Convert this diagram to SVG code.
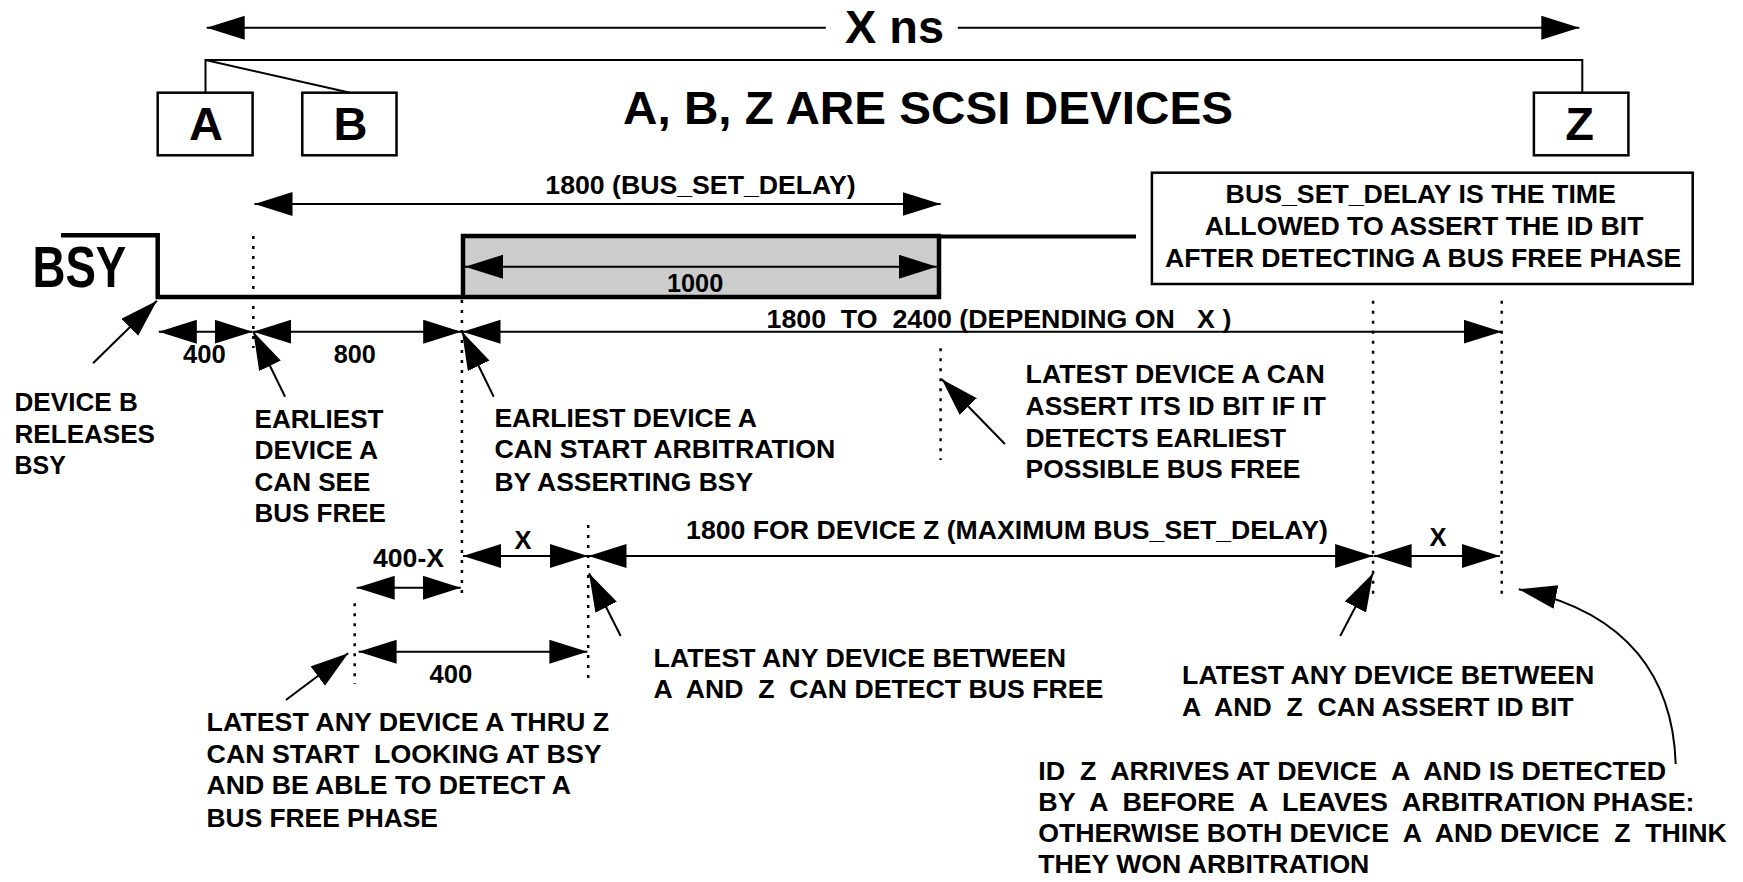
<svg xmlns="http://www.w3.org/2000/svg" width="1743" height="882" viewBox="0 0 1743 882">
<style>
text{font-family:"Liberation Sans",Arial,sans-serif;font-weight:bold;fill:#000;white-space:pre}
.t{font-size:25.5px}
.box{fill:#fff;stroke:#000;stroke-width:2.5}
.ln{fill:none;stroke:#000;stroke-width:2}
.ar{fill:none;stroke:#000;stroke-width:2;marker-end:url(#ah)}
.da{fill:none;stroke:#000;stroke-width:2;marker-start:url(#ah);marker-end:url(#ah)}
.dot{fill:none;stroke:#000;stroke-width:2.5;stroke-dasharray:3 7}
</style>
<defs>
<marker id="ah" markerUnits="userSpaceOnUse" markerWidth="40" markerHeight="26" refX="38" refY="12" orient="auto-start-reverse" viewBox="0 0 40 26">
<path d="M0,0 L38,12 L0,24 Z" fill="#000"/>
</marker>
</defs>
<rect width="1743" height="882" fill="#fff"/>

<g id="title-xns">
<text x="845" y="43.3" font-size="46" textLength="99" lengthAdjust="spacingAndGlyphs">X ns</text>
</g>
<g id="title-devices">
<text x="623" y="124" font-size="47" textLength="610" lengthAdjust="spacingAndGlyphs">A, B, Z ARE SCSI DEVICES</text>
</g>

<g id="node-A">
<rect class="box" x="157.7" y="92.7" width="94.9" height="62.6"/>
<text x="206" y="140" font-size="47" text-anchor="middle">A</text>
</g>
<g id="node-B">
<rect class="box" x="302.3" y="92.7" width="94.2" height="62.6"/>
<text x="350.5" y="140" font-size="47" text-anchor="middle">B</text>
</g>
<g id="node-Z">
<rect class="box" x="1533.9" y="92.7" width="94.5" height="62.6"/>
<text x="1579.5" y="140" font-size="47" text-anchor="middle">Z</text>
</g>

<g id="note-box">
<rect class="box" x="1151.9" y="172.7" width="540.8" height="111.3"/>
<text class="t" x="1225.6" y="203.3" textLength="390.3" lengthAdjust="spacingAndGlyphs">BUS_SET_DELAY IS THE TIME</text>
<text class="t" x="1204.8" y="235" textLength="438.8" lengthAdjust="spacingAndGlyphs">ALLOWED TO ASSERT THE ID BIT</text>
<text class="t" x="1165.1" y="266.7" textLength="516.3" lengthAdjust="spacingAndGlyphs">AFTER DETECTING A BUS FREE PHASE</text>
</g>

<g id="bsy-signal">
<text x="32.5" y="287.3" font-size="57" textLength="93.8" lengthAdjust="spacingAndGlyphs">BSY</text>
<path d="M61,235.3 H157.7 V297 H463" fill="none" stroke="#000" stroke-width="4.5"/>
<rect x="463" y="236" width="476" height="61" fill="#cccccc" stroke="#000" stroke-width="4.5"/>
<line x1="939" y1="236.5" x2="1136" y2="236.5" stroke="#000" stroke-width="4"/>
</g>

<g id="labels">
<text class="t" x="545.3" y="194.3" textLength="310.3" lengthAdjust="spacingAndGlyphs">1800 (BUS_SET_DELAY)</text>
<text class="t" x="667" y="291.7" textLength="56.2" lengthAdjust="spacingAndGlyphs">1000</text>
<text class="t" x="766.5" y="328.3" textLength="464.8" lengthAdjust="spacingAndGlyphs">1800  TO  2400 (DEPENDING ON   X )</text>
<text class="t" x="183" y="363.3" textLength="42.8" lengthAdjust="spacingAndGlyphs">400</text>
<text class="t" x="333.7" y="363.3" textLength="42.1" lengthAdjust="spacingAndGlyphs">800</text>
<text class="t" x="373" y="567.3" textLength="71" lengthAdjust="spacingAndGlyphs">400-X</text>
<text class="t" x="523" y="549.3" text-anchor="middle">X</text>
<text class="t" x="1438" y="546" text-anchor="middle">X</text>
<text class="t" x="686.1" y="539.3" textLength="641.7" lengthAdjust="spacingAndGlyphs">1800 FOR DEVICE Z (MAXIMUM BUS_SET_DELAY)</text>
<text class="t" x="429.4" y="683.3" textLength="42.8" lengthAdjust="spacingAndGlyphs">400</text>
</g>

<g id="note-device-b">
<text class="t" x="14.5" y="410.7" textLength="123.3" lengthAdjust="spacingAndGlyphs">DEVICE B</text>
<text class="t" x="14.5" y="442.7" textLength="140.5" lengthAdjust="spacingAndGlyphs">RELEASES</text>
<text class="t" x="14.5" y="474.3" textLength="51.3" lengthAdjust="spacingAndGlyphs">BSY</text>
</g>
<g id="note-earliest-see">
<text class="t" x="254.5" y="427.7" textLength="129" lengthAdjust="spacingAndGlyphs">EARLIEST</text>
<text class="t" x="254.5" y="459" textLength="123.6" lengthAdjust="spacingAndGlyphs">DEVICE A</text>
<text class="t" x="254.5" y="491" textLength="115.9" lengthAdjust="spacingAndGlyphs">CAN SEE</text>
<text class="t" x="254.5" y="522.3" textLength="131.3" lengthAdjust="spacingAndGlyphs">BUS FREE</text>
</g>
<g id="note-earliest-arb">
<text class="t" x="494.4" y="426.7" textLength="262.5" lengthAdjust="spacingAndGlyphs">EARLIEST DEVICE A</text>
<text class="t" x="494.4" y="458.3" textLength="341" lengthAdjust="spacingAndGlyphs">CAN START ARBITRATION</text>
<text class="t" x="494.4" y="490.7" textLength="258.7" lengthAdjust="spacingAndGlyphs">BY ASSERTING BSY</text>
</g>
<g id="note-latest-a">
<text class="t" x="1025.6" y="383.3" textLength="299.1" lengthAdjust="spacingAndGlyphs">LATEST DEVICE A CAN</text>
<text class="t" x="1025.6" y="415" textLength="300.3" lengthAdjust="spacingAndGlyphs">ASSERT ITS ID BIT IF IT</text>
<text class="t" x="1025.6" y="446.7" textLength="260.6" lengthAdjust="spacingAndGlyphs">DETECTS EARLIEST</text>
<text class="t" x="1025.6" y="478.3" textLength="274.9" lengthAdjust="spacingAndGlyphs">POSSIBLE BUS FREE</text>
</g>
<g id="note-latest-look">
<text class="t" x="206.6" y="730.7" textLength="402.6" lengthAdjust="spacingAndGlyphs">LATEST ANY DEVICE A THRU Z</text>
<text class="t" x="206.6" y="762.7" textLength="395" lengthAdjust="spacingAndGlyphs">CAN START  LOOKING AT BSY</text>
<text class="t" x="206.6" y="794.3" textLength="364.4" lengthAdjust="spacingAndGlyphs">AND BE ABLE TO DETECT A</text>
<text class="t" x="206.6" y="826.7" textLength="231.2" lengthAdjust="spacingAndGlyphs">BUS FREE PHASE</text>
</g>
<g id="note-latest-detect">
<text class="t" x="653.6" y="667.3" textLength="412.5" lengthAdjust="spacingAndGlyphs">LATEST ANY DEVICE BETWEEN</text>
<text class="t" x="653.6" y="698.3" textLength="449.7" lengthAdjust="spacingAndGlyphs">A  AND  Z  CAN DETECT BUS FREE</text>
</g>
<g id="note-latest-assert">
<text class="t" x="1182.1" y="684" textLength="412.3" lengthAdjust="spacingAndGlyphs">LATEST ANY DEVICE BETWEEN</text>
<text class="t" x="1182.1" y="715.7" textLength="391.5" lengthAdjust="spacingAndGlyphs">A  AND  Z  CAN ASSERT ID BIT</text>
</g>
<g id="note-idz">
<text class="t" x="1038.2" y="780" textLength="628" lengthAdjust="spacingAndGlyphs">ID  Z  ARRIVES AT DEVICE  A  AND IS DETECTED</text>
<text class="t" x="1038.2" y="810.7" textLength="656.4" lengthAdjust="spacingAndGlyphs">BY  A  BEFORE  A  LEAVES  ARBITRATION PHASE:</text>
<text class="t" x="1038.2" y="842.2" textLength="688.6" lengthAdjust="spacingAndGlyphs">OTHERWISE BOTH DEVICE  A  AND DEVICE  Z  THINK</text>
<text class="t" x="1038.2" y="873.3" textLength="331.2" lengthAdjust="spacingAndGlyphs">THEY WON ARBITRATION</text>
</g>

<g id="connectors">
<line class="ar" x1="825.8" y1="27.7" x2="206.7" y2="27.7"/>
<line class="ar" x1="957.8" y1="27.7" x2="1579.3" y2="27.7"/>
<polyline class="ln" points="205.5,92.7 205.5,60 1582.3,60 1582.3,92.7"/>
<line class="ln" x1="205.5" y1="60" x2="350.2" y2="92.7"/>

<line class="da" x1="254.5" y1="204" x2="940.6" y2="204"/>
<line class="da" x1="465" y1="266.7" x2="936.8" y2="266.7"/>
<line class="da" x1="158.8" y1="331.7" x2="252.6" y2="331.7"/>
<line class="da" x1="253.3" y1="331.7" x2="461.2" y2="331.7"/>
<line class="da" x1="462.5" y1="331.7" x2="1501.7" y2="331.7"/>
<line class="da" x1="463" y1="556" x2="588" y2="556"/>
<line class="da" x1="588.5" y1="556" x2="1373.1" y2="556"/>
<line class="da" x1="1373.6" y1="556" x2="1499.8" y2="556"/>
<line class="da" x1="356.7" y1="587.7" x2="460.8" y2="587.7"/>
<line class="da" x1="358.6" y1="651.7" x2="587.4" y2="651.7"/>

<line class="ar" x1="93" y1="363.3" x2="156.9" y2="300.7"/>
<line class="ar" x1="285.1" y1="396.7" x2="253.3" y2="331.7"/>
<line class="ar" x1="493.7" y1="396.7" x2="462" y2="331.7"/>
<line class="ar" x1="1004.9" y1="444" x2="941.8" y2="379.3"/>
<line class="ar" x1="285.9" y1="700" x2="348.2" y2="653.3"/>
<line class="ar" x1="620.7" y1="636" x2="589" y2="573.3"/>
<line class="ar" x1="1340.2" y1="636" x2="1373.1" y2="573.3"/>
<path class="ar" d="M1675.7,764 C1673,680 1630,612 1518.7,589.3"/>

<line class="dot" x1="253.3" y1="236" x2="253.3" y2="348"/>
<line class="dot" x1="461.9" y1="300" x2="461.9" y2="596.7"/>
<line class="dot" x1="588.2" y1="525" x2="588.2" y2="678.3"/>
<line class="dot" x1="354.7" y1="603.3" x2="354.7" y2="684"/>
<line class="dot" x1="940.6" y1="348.3" x2="940.6" y2="460"/>
<line class="dot" x1="1373.1" y1="300.7" x2="1373.1" y2="596.7"/>
<line class="dot" x1="1501.7" y1="300.7" x2="1501.7" y2="596.7"/>
</g>
</svg>
